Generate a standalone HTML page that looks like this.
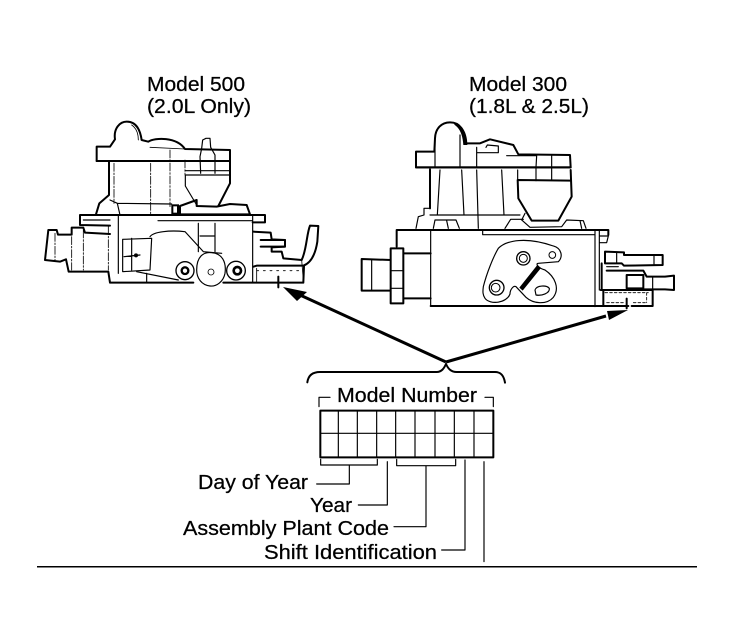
<!DOCTYPE html>
<html>
<head>
<meta charset="utf-8">
<style>
html,body{margin:0;padding:0;background:#fff;width:735px;height:643px;overflow:hidden}
svg{display:block}
text{font-family:"Liberation Sans",sans-serif;font-size:20px;fill:#000;stroke:#000;stroke-width:.25px}
.k{fill:none;stroke:#000;stroke-linejoin:round;stroke-linecap:round}
.t{stroke-width:6}.m{stroke-width:3.5}.f{stroke-width:2.5;stroke-dasharray:24 5 5 5}.n{stroke-width:2.5}
</style>
</head>
<body>
<svg width="735" height="643" viewBox="0 0 735 643" xmlns="http://www.w3.org/2000/svg">
<rect width="735" height="643" fill="#fff"/>
<text x="147" y="91" textLength="98" lengthAdjust="spacingAndGlyphs">Model 500</text>
<text x="147" y="113" textLength="104" lengthAdjust="spacingAndGlyphs">(2.0L Only)</text>
<text x="469" y="91" textLength="98" lengthAdjust="spacingAndGlyphs">Model 300</text>
<text x="469" y="113" textLength="120" lengthAdjust="spacingAndGlyphs">(1.8L &amp; 2.5L)</text>
<text x="337" y="402" textLength="140" lengthAdjust="spacingAndGlyphs">Model Number</text>
<text x="198" y="489" textLength="110" lengthAdjust="spacingAndGlyphs">Day of Year</text>
<text x="310" y="512" textLength="42" lengthAdjust="spacingAndGlyphs">Year</text>
<text x="183" y="535" textLength="206" lengthAdjust="spacingAndGlyphs">Assembly Plant Code</text>
<text x="264" y="559" textLength="173" lengthAdjust="spacingAndGlyphs">Shift Identification</text>

<!-- left carburetor -->
<g transform="translate(30,60) scale(.33333)">
<path class="k t" fill="#fff" d="M200,260L240,260L255,238C250,205 270,185 290,185C315,185 330,205 335,240L355,245C375,232 440,230 465,267L600,270L600,303L200,303Z"/>
<path class="k n" d="M305,195C320,205 325,220 325,240M315,192C328,205 333,222 333,240M360,262L465,267"/>
<path class="k t" d="M200,303L600,303"/>
<path class="k t" d="M237,305L237,405L208,430L198,463M600,305L600,370L565,438"/>
<path class="k m" d="M466,332L600,332M466,345L600,345M466,345L466,378L500,435M515,265L518,240L528,235L540,235L542,262L555,285L555,340M515,265L510,290L512,340"/>
<path class="k f" d="M252,310L252,430M362,310L362,465M420,270L420,440M465,300L465,345"/>
<path class="k m" d="M240,420L262,430L270,465M262,430L425,432"/>
<rect x="427" y="436" width="17" height="25" fill="#fff" stroke="#000" stroke-width="6"/>
<path class="k t" d="M450,438L500,420L500,438L560,440L600,432L650,435L660,463L450,463Z"/>
<path class="k t" d="M150,465L705,465L705,487L668,487M150,465L150,495L240,497"/>
<path class="k m" d="M160,480L240,480M384,482L668,482M265,465L265,640M668,465L668,668"/>
<path class="k t" d="M55,510L80,510L84,524L125,524L125,503L160,503L165,518L240,522M55,510L45,600L90,605L108,598L116,635L235,635L240,668L490,668M580,668L820,668L822,618"/>
<path class="k f" d="M75,520L75,600M125,530L125,630M160,510L160,630M235,500L235,630"/>
<path class="k m" d="M278,538L278,635L360,630L365,535ZM305,535L305,630M282,590L330,585M360,530C370,515 420,510 465,515L520,575L575,580"/>
<circle cx="318" cy="586" r="6" fill="#000"/>
<path class="k m" d="M505,490L505,575M555,490L555,575M510,528L555,528M320,635L445,660M350,640L350,665"/>
<circle cx="465" cy="632" r="27" class="k" stroke-width="4" fill="#fff"/>
<circle cx="465" cy="632" r="10" class="k" stroke-width="7" fill="#fff"/>
<circle cx="618" cy="632" r="28" class="k" stroke-width="4" fill="#fff"/>
<circle cx="622" cy="632" r="11" class="k" stroke-width="8" fill="#fff"/>
<path class="k m" fill="#fff" d="M500,630C500,590 520,575 545,578C575,580 590,605 585,640C580,665 560,680 540,678C515,675 500,655 500,630Z"/>
<circle cx="543" cy="636" r="9" class="k n"/>
<path class="k t" d="M670,515L722,518L725,538L765,540L765,560L725,562L725,575L755,575L760,595L815,600C830,570 830,520 840,497L865,498L862,545C855,590 840,610 820,617L680,617L670,620"/>
<path class="k t" d="M692,540L765,540M692,560L765,560"/>
<path class="k n" d="M815,600L820,660M680,625L680,665"/>
<path d="M680,632H810" class="k n" stroke-dasharray="6 14"/>
<path class="k t" d="M745,650L745,682"/>
</g>

<!-- right carburetor -->
<g transform="translate(350,60) scale(.33333)">
<path class="k t" fill="#fff" d="M198,275L253,275L255,235C256,205 275,187 300,187C330,187 345,210 345,250L390,250L420,238L490,255L505,283L660,285L662,322L198,322Z"/>
<path d="M320,190C342,200 352,225 352,255L340,255C338,225 330,205 312,193Z" fill="#000"/>
<path class="k m" d="M255,240L255,322M330,225L330,322M380,262L380,322M408,262L412,255L445,258L445,278L380,278M470,287L560,287M560,287L558,322M605,287L605,360"/>
<path class="k t" d="M198,322L662,322"/>
<path class="k t" d="M240,328L240,445M662,330L665,410L625,482L545,482L505,415L503,360L662,362"/>
<path class="k m" d="M558,322L558,362M503,330L503,360"/>
<path class="k m" d="M270,330L262,465M335,330L342,465M380,330L385,505M455,330L462,465M240,465L510,465"/>
<path class="k m" d="M240,445L222,445L222,465L205,470L198,505M250,505L255,480L318,480L328,505M465,505L482,478L520,478M525,460L515,480L540,502L635,500L650,480L700,482L708,505"/>
<path class="k t" d="M140,510L775,510L775,525M140,510L140,560"/>
<path class="k m" d="M242,510L242,738M398,512L398,524L735,524M735,510L735,740M748,510L748,690M750,528L775,528L770,548L750,548M290,482L295,505M690,482L695,505"/>
<path class="k t" d="M122,565L160,565L160,730L122,730ZM35,597L122,600M35,597L35,692L122,692M160,580L242,580M160,715L242,715"/>
<path class="k m" d="M65,600L65,692M122,632L160,632M122,685L160,685"/>
<path class="k t" d="M242,738L760,738"/>
<path class="k m" d="M400,680C410,640 430,590 445,565C470,540 530,530 610,558C635,565 640,590 625,605L565,610C555,610 565,625 585,630C615,650 630,685 610,712C590,735 550,732 528,712L498,680C490,675 480,690 480,702C470,730 420,735 405,715C398,705 398,695 400,680Z"/>
<path d="M562,615L573,624L518,692L508,683Z" fill="#000"/>
<circle cx="520" cy="595" r="20" class="k" stroke-width="4"/>
<circle cx="520" cy="595" r="12" class="k" stroke-width="3"/>
<circle cx="607" cy="585" r="10" class="k" stroke-width="3"/>
<circle cx="440" cy="683" r="22" class="k" stroke-width="4"/>
<circle cx="437" cy="683" r="13" class="k" stroke-width="3"/>
<path class="k m" d="M555,690C560,675 590,675 598,685C600,700 575,708 558,705Z"/>
<path class="k t" d="M765,575L822,577L822,585L938,585L938,615L822,617L815,610L765,610M765,575L765,610"/>
<path class="k m" d="M912,587L912,615M800,580L800,610"/>
<path class="k t" d="M755,610L755,690M770,632L880,632L890,650L945,650L972,647L972,690L945,688L885,688L830,685M830,645L880,645L880,685L830,685L830,645"/>
<path class="k m" d="M908,650L908,685M770,620L805,620"/>
<path class="k t" d="M752,690L908,690L908,738L845,738M760,690L760,738L835,738"/>
<path class="k n" d="M765,698H895M770,728H825M850,728H890M890,698V728" stroke-dasharray="8 6"/>
<path class="k t" d="M830,716L830,745"/>
</g>

<!-- arrows -->
<path d="M300,295L446,362" stroke="#000" stroke-width="3" fill="none"/>
<path d="M283,287L307,292L297,301Z" fill="#000"/>
<path d="M446,362L606,316" stroke="#000" stroke-width="3" fill="none"/>
<path d="M628,310L607,311L609,320Z" fill="#000"/>

<!-- number block -->
<g transform="translate(170,350) scale(.33333)">
<path class="k t" d="M412,97C415,75 430,66 450,66L800,66C815,66 822,55 828,42C834,55 842,66 860,66L975,66C995,66 1002,80 1005,98"/>
<path class="k m" d="M447,170L447,142L480,142M945,142L970,142L970,170"/>
<rect x="451" y="182" width="519" height="140" class="k" stroke-width="6" fill="#fff"/>
<path class="k m" d="M505,182V322M562,182V322M620,182V322M677,182V322M735,182V322M795,182V322M853,182V322M912,182V322M451,250H970"/>
<path class="k m" d="M452,328L452,345L622,345L622,328M538,345L538,402L440,402M652,335L652,465L565,465M680,328L680,347L857,347L857,328M768,347L768,530L672,530M885,330L885,600L815,600M942,335L942,635"/>
</g>

<rect x="37" y="566" width="660" height="1.5" fill="#000"/>
</svg>
</body>
</html>
